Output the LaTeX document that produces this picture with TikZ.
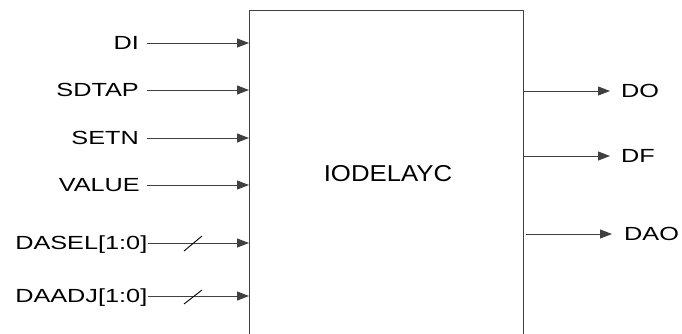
\documentclass[tikz,border=0pt]{standalone}
\usepackage{fontspec}
\setmainfont{Liberation Sans}[FakeStretch=1.33]
\newfontfamily\titlefont{Liberation Sans}[FakeStretch=1.12]
\usetikzlibrary{arrows.meta}
\definecolor{lg}{RGB}{64,64,64}
\begin{document}
\begin{tikzpicture}[x=1pt,y=-1pt,
  lab/.style={inner sep=0pt, text height=13.6pt, text depth=0pt, font=\fontsize{19}{19}\selectfont, text=black},
  sig/.style={draw=lg, line width=1pt, -{Triangle[length=12pt,width=9pt]}},
  bus/.style={draw=black, line width=0.9pt}]
\useasboundingbox (0,0) rectangle (682,333);
\clip (0,0) rectangle (682,333);
\node[draw=lg, line width=1pt, minimum width=274pt, minimum height=360pt, anchor=north west, inner sep=0pt] (box) at (249,9.5) {};
\node[inner sep=0pt, text height=16.5pt, text depth=0pt, font=\fontsize{23}{23}\titlefont] (name) at (388,173) {IODELAYC};
% inputs
\node[lab, anchor=east] (di) at (139,43) {DI};
\node[lab, anchor=east] (sdtap) at (139,90) {SDTAP};
\node[lab, anchor=east] (setn) at (139,138) {SETN};
\node[lab, anchor=east] (value) at (140,185) {VALUE};
\node[lab, anchor=east] (dasel) at (147.5,243) {DASEL[1:0]};
\node[lab, anchor=east] (daadj) at (147.5,296) {DAADJ[1:0]};
\draw[sig] ([xshift=8pt]di.east) -- (di.east -| box.west);
\draw[sig] ([xshift=8pt]sdtap.east) -- (sdtap.east -| box.west);
\draw[sig] ([xshift=8pt]setn.east) -- (setn.east -| box.west);
\draw[sig] ([xshift=7pt]value.east) -- (value.east -| box.west);
\draw[sig] ([xshift=0.5pt]dasel.east) -- (dasel.east -| box.west);
\draw[sig] ([xshift=0.5pt]daadj.east) -- (daadj.east -| box.west);
\coordinate (s1) at (193,243.5);
\coordinate (s2) at (193,297);
\draw[bus] ([shift={(-9,7.5)}]s1) -- ([shift={(9,-7.5)}]s1);
\draw[bus] ([shift={(-9,7)}]s2) -- ([shift={(9,-7)}]s2);
% outputs
\node[lab, anchor=west] (do) at (621,91) {DO};
\node[lab, anchor=west] (df) at (621,156) {DF};
\node[lab, anchor=west] (dao) at (624,234) {DAO};
\draw[sig] (do.west -| box.east) -- ([xshift=-11pt]do.west);
\draw[sig] (df.west -| box.east) -- ([xshift=-11pt]df.west);
\draw[sig] ([xshift=2pt]dao.west -| box.east) -- ([xshift=-12pt]dao.west);
\end{tikzpicture}
\end{document}
